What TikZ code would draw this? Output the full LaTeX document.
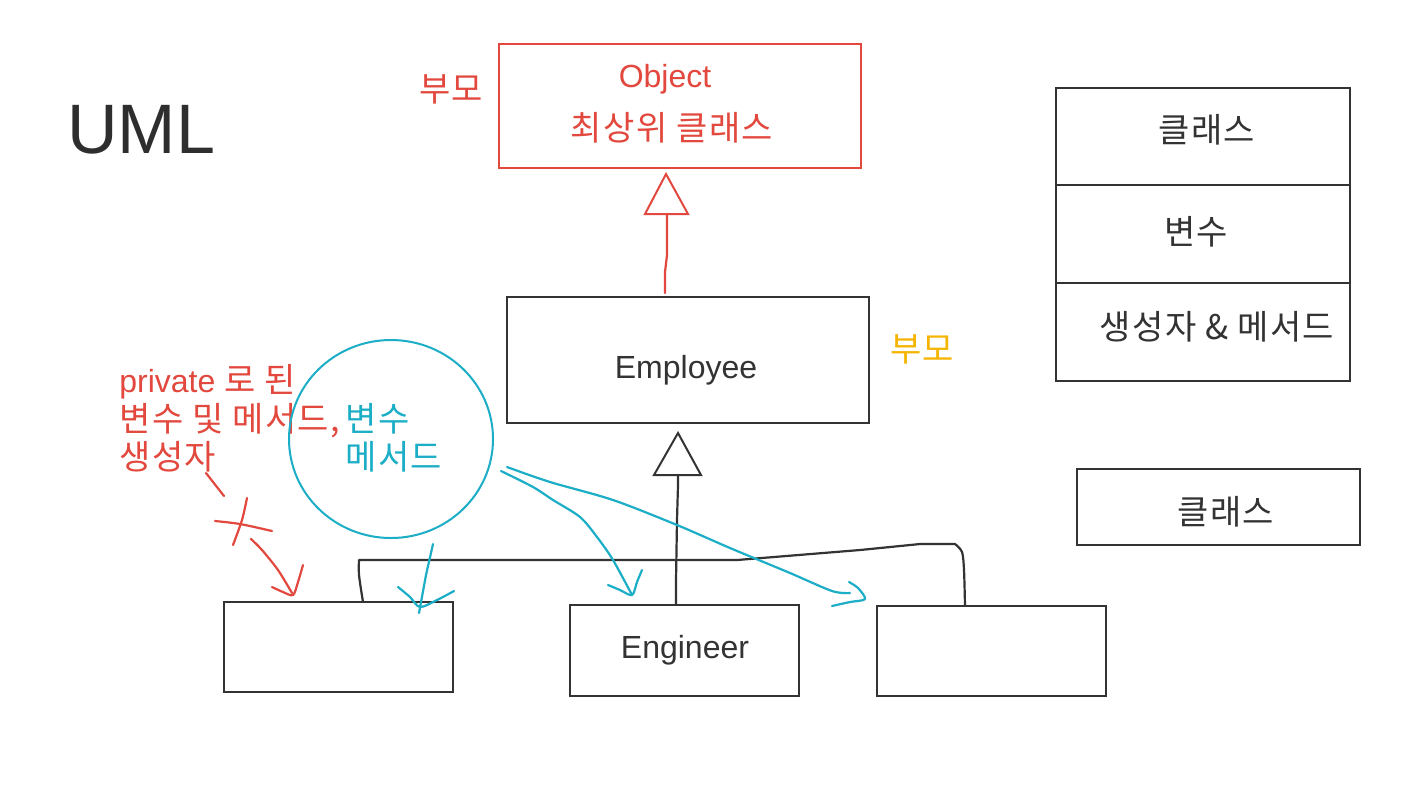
\documentclass[tikz,border=0pt]{standalone}
\usepackage{fontspec}
\setmainfont{Liberation Sans}
\newfontfamily\krfam[LetterSpace=4]{Noto Sans CJK KR}
\newcommand\kr{\krfam\fontsize{17}{20}\selectfont}
\usetikzlibrary{shapes.geometric,calc}
\definecolor{ink}{HTML}{333333}
\definecolor{redink}{HTML}{E2483D}
\definecolor{cyanink}{HTML}{1BAEC6}
\definecolor{orangeink}{HTML}{F5B400}
\begin{document}
\begin{tikzpicture}[x=0.5pt,y=-0.5pt,
  umlbox/.style={draw=ink, line width=1pt, inner sep=0pt},
  txt/.style={inner sep=0pt, anchor=base, text=ink, font=\fontsize{16}{19}\selectfont},
  hand/.style={line width=1.1pt, line cap=round, line join=round},
  tri/.style={line width=1pt, line join=miter}
]
\useasboundingbox[fill=white] (0,0) rectangle (1422,800);

% title
\node[inner sep=0pt, anchor=base west, text=ink!90!black, font=\fontsize{35}{40}\selectfont] (title) at (67,153) {UML};

% Object box
\node[umlbox, draw=redink, minimum width=181pt, minimum height=62pt] (obj) at (680,106) {};
\node[txt, text=redink] (objt) at (665,87) {Object};
\node[txt, text=redink] (objk) at (672,140) {\kr 최상위 클래스};
\node[txt, text=redink] (p1) at (451,101) {\kr 부모};

% Employee box
\node[umlbox, minimum width=181pt, minimum height=63pt] (emp) at (688,360) {};
\node[txt] (empt) at (686,378) {Employee};
\node[txt, text=orangeink] (p2) at (922,361) {\kr 부모};

% Engineer and the other boxes
\node[umlbox, minimum width=114.5pt, minimum height=45.5pt] (eng) at (684.5,650.5) {};
\node[txt] (engt) at (685,658) {Engineer};
\node[umlbox, minimum width=114.5pt, minimum height=45pt] (lbox) at (338.5,647) {};
\node[umlbox, minimum width=114.5pt, minimum height=45pt] (rbox) at (991.5,651) {};

% compartment box
\node[umlbox, minimum width=147pt, minimum height=146.5pt] (comp) at (1203,234.5) {};
\draw[ink, line width=1pt] (comp.west |- 0,185) -- (comp.east |- 0,185);
\draw[ink, line width=1pt] (comp.west |- 0,283) -- (comp.east |- 0,283);
\node[txt] (c1) at (1207,142) {\kr 클래스};
\node[txt] (c2) at (1196,244) {\kr 변수};
\node[txt] (c3) at (1217,339) {\kr 생성자 \& 메서드};

\node[umlbox, minimum width=141.5pt, minimum height=38pt] (cls) at (1218.5,507) {};
\node[txt] (clst) at (1226,524) {\kr 클래스};

% inheritance Employee -> Object (red)
\coordinate (rtb) at (667,214);
\draw[redink, tri] (645,214) -- (666,174) -- (688,214) -- cycle;
\draw[redink, hand] ($(emp.north)+(-23,-3)$) -- (665,272) -- (667,255) -- (rtb);

% inheritance Engineer -> Employee (black)
\coordinate (btb) at (678,475);
\draw[ink, tri] (654,475) -- (678,433) -- (701,475) -- cycle;
\draw[ink, hand] ($(eng.north)+(-8.5,0)$) -- (676,580) -- (677,520) -- (678,485) -- (btb);

% hand-drawn bracket line
\draw[ink, hand] plot[smooth, tension=0.5] coordinates {(363,602) (359,575) (359,560)}
  -- (737,560) -- (860,550) -- (920,544) -- (955,544)
  plot[smooth, tension=0.5] coordinates {(955,544) (962,552) (964,570) (965,606)};

% red annotation
\node[txt, anchor=base west, text=redink] (r1) at (119,392) {private \kr 로 된};
\node[txt, anchor=base west, text=redink] (r2) at (119,431) {\kr 변수 및 메서드,};
\node[txt, anchor=base west, text=redink] (r3) at (119,469) {\kr 생성자};
\draw[redink, hand] (206,473) -- (224,496);
\draw[redink, hand] plot[smooth] coordinates {(215,521) (240,524) (272,531)};
\draw[redink, hand] plot[smooth] coordinates {(247,498) (242,520) (233,545)};
\draw[redink, hand] plot[smooth] coordinates {(251,539) (262,550) (278,570) (292,593)};
\draw[redink, hand] plot[smooth] coordinates {(272,587) (283,592) (293,595) (298,582) (303,565)};

% cyan circle and text
\node[draw=cyanink, line width=1pt, ellipse, minimum width=102pt, minimum height=99pt, inner sep=0pt] (circ) at (391,439) {};
\node[txt, anchor=base west, text=cyanink] (b1) at (345,431) {\kr 변수};
\node[txt, anchor=base west, text=cyanink] (b2) at (345,469) {\kr 메서드};

% cyan arrows
\draw[cyanink, hand] ($(circ.south)+(42,5)$) -- (426,575) -- (419,613);
\draw[cyanink, hand] plot[smooth] coordinates {(398,587) (410,597) (420,607) (437,600) (454,591)};
\draw[cyanink, hand] plot[smooth] coordinates {(501,471) (533,487) (553,500) (580,517) (597,537) (613,560) (632,595)};
\draw[cyanink, hand] plot[smooth] coordinates {(608,585) (620,590) (632,595) (637,582) (642,570)};
\draw[cyanink, hand] plot[smooth] coordinates {(507,467) (550,482) (613,500) (677,525) (730,548) (790,573) (832,591) (850,593)};
\draw[cyanink, hand] plot[smooth] coordinates {(849,582) (858,588) (865,599) (850,602) (832,606)};
\end{tikzpicture}
\end{document}
